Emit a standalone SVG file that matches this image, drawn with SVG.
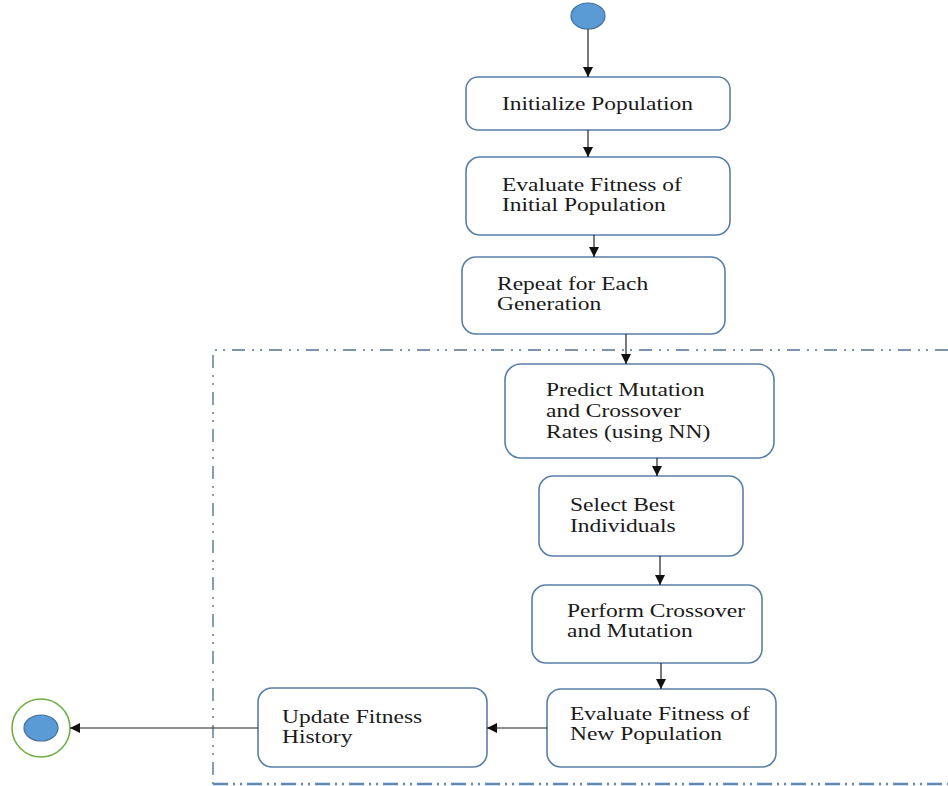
<svg xmlns="http://www.w3.org/2000/svg" width="948" height="786" viewBox="0 0 948 786">
<style>
.box{fill:#fff;stroke:#5a7fa6;stroke-width:1.6}
.t{font-family:"Liberation Serif","Times New Roman",serif;font-size:18.5px;fill:#1a1a1a}
.c{stroke:#222;stroke-width:1.2;fill:none;marker-end:url(#ah)}
.frame{stroke:#7f93aa;stroke-width:1.8;fill:none;stroke-dasharray:13 7 2 6 2 7}
.frameb{stroke:#5d88b8;stroke-width:2.6;fill:none;stroke-dasharray:15 5 2 5 2 5}
</style>
<defs>
<marker id="ah" viewBox="0 0 10 10" refX="10" refY="5" markerWidth="10" markerHeight="10" markerUnits="userSpaceOnUse" orient="auto">
<path d="M0,0 L10,5 L0,10 Z" fill="#111"/>
</marker>
</defs>
<g id="frame">
<path class="frame" d="M948,350 L213,350 L213,784"/>
<path class="frameb" d="M213,784 L948,784"/>
</g>
<g id="start"><ellipse cx="588" cy="16" rx="17" ry="13" fill="#5b9bd5" stroke="#41719c" stroke-width="1.2"/></g>
<g id="n1"><rect class="box" x="466" y="77" width="264" height="53" rx="12"/><text class="t" transform="translate(502,110) scale(1.27,1)">Initialize Population</text></g>
<g id="n2"><rect class="box" x="466" y="157" width="264" height="78" rx="14"/><text class="t" transform="translate(502,191) scale(1.27,1)">Evaluate Fitness of</text><text class="t" transform="translate(502,211) scale(1.27,1)">Initial Population</text></g>
<g id="n3"><rect class="box" x="462" y="257" width="263" height="77" rx="14"/><text class="t" transform="translate(497,290) scale(1.27,1)">Repeat for Each</text><text class="t" transform="translate(497,310) scale(1.27,1)">Generation</text></g>
<g id="n4"><rect class="box" x="505" y="364" width="269" height="94" rx="16"/><text class="t" transform="translate(546,396) scale(1.27,1)">Predict Mutation</text><text class="t" transform="translate(546,417) scale(1.27,1)">and Crossover</text><text class="t" transform="translate(546,438) scale(1.27,1)">Rates (using NN)</text></g>
<g id="n5"><rect class="box" x="539" y="476" width="204" height="80" rx="14"/><text class="t" transform="translate(570,511) scale(1.27,1)">Select Best</text><text class="t" transform="translate(570,532) scale(1.27,1)">Individuals</text></g>
<g id="n6"><rect class="box" x="532" y="585" width="230" height="78" rx="14"/><text class="t" transform="translate(567,617) scale(1.27,1)">Perform Crossover</text><text class="t" transform="translate(567,637) scale(1.27,1)">and Mutation</text></g>
<g id="n7"><rect class="box" x="547" y="689" width="229" height="78" rx="14"/><text class="t" transform="translate(570,720) scale(1.27,1)">Evaluate Fitness of</text><text class="t" transform="translate(570,740) scale(1.27,1)">New Population</text></g>
<g id="n8"><rect class="box" x="258" y="688" width="229" height="79" rx="14"/><text class="t" transform="translate(282,723) scale(1.27,1)">Update Fitness</text><text class="t" transform="translate(282,743) scale(1.27,1)">History</text></g>
<g id="end"><circle cx="41" cy="728" r="29" fill="#fff" stroke="#70ad47" stroke-width="1.6"/><ellipse cx="41" cy="728" rx="17" ry="13" fill="#5b9bd5" stroke="#41719c" stroke-width="1.2"/></g>
<g id="connectors">
<path class="c" d="M588,29 L588,77"/>
<path class="c" d="M588,130 L588,157"/>
<path class="c" d="M594,235 L594,257"/>
<path class="c" d="M626,334 L626,364"/>
<path class="c" d="M657,458 L657,476"/>
<path class="c" d="M660,556 L660,585"/>
<path class="c" d="M661,663 L661,689"/>
<path class="c" d="M547,728 L487,728"/>
<path class="c" d="M258,728 L70,728"/>
</g>
</svg>
